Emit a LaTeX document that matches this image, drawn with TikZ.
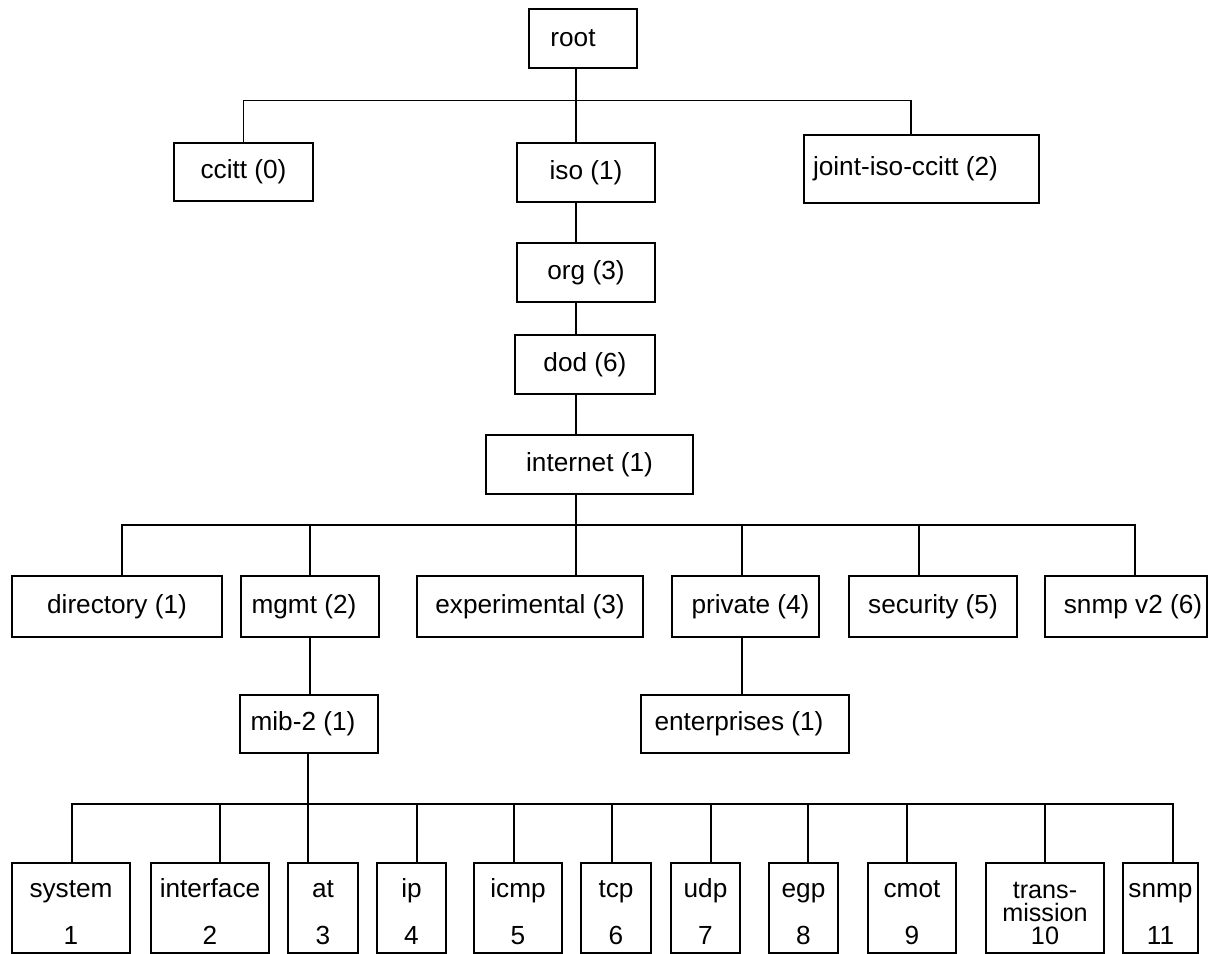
\documentclass[tikz,border=0pt]{standalone}
\usepackage{fontspec}
\setmainfont{Liberation Sans}
\begin{document}
% One unit = one half point; y grows downwards so positions read top to bottom.
\newcommand\treebox[6]{%
  \node[box, minimum width={(#4-#2)*0.5pt}, minimum height={(#5-#3)*0.5pt}]
    (#1) at ({(#2+#4)/2},{(#3+#5)/2}) {#6};}
\begin{tikzpicture}[x=0.5pt, y=-0.5pt, line width=0.8pt,
  box/.style={draw, rectangle, inner sep=0pt, outer sep=0pt,
    font=\fontsize{13.1}{15.7}\selectfont},
  lbl/.style={inner sep=0pt, font=\fontsize{13.1}{15.7}\selectfont},
  small lbl/.style={inner sep=0pt, font=\fontsize{12.6}{14}\selectfont},
  link/.style={line width=0.8pt}]
\useasboundingbox (0,0) rectangle (1212,954);

% ---- upper levels ----
\treebox{root}{529}{9}{637}{68}{root\hspace*{10pt}}
\treebox{ccitt}{174}{143}{313}{201}{ccitt (0)}
\treebox{iso}{517}{143}{655}{202}{iso (1)}
\treebox{joint}{804}{135}{1039}{203}{\makebox[117.5pt][l]{\hspace*{4.5pt}joint-iso-ccitt (2)}}
\treebox{org}{517}{243}{655}{302}{org (3)}
\treebox{dod}{515}{335}{655}{394}{dod (6)}
\treebox{internet}{486}{435}{693}{494}{internet (1)}

% ---- children of internet ----
\treebox{directory}{12}{576}{222}{637}{directory (1)}
\treebox{mgmt}{241}{576}{379}{637}{mgmt (2)\hspace*{6pt}}
\treebox{experimental}{417}{576}{643}{637}{experimental (3)}
\treebox{private}{672}{576}{819}{637}{\hspace*{5pt}private (4)}
\treebox{security}{849}{576}{1017}{637}{security (5)}
\treebox{snmpvtwo}{1045}{576}{1207}{637}{\hspace*{7pt}snmp v2 (6)}

\treebox{mibtwo}{240}{695}{378}{753}{mib-2 (1)\hspace*{6pt}}
\treebox{enterprises}{641}{695}{849}{753}{enterprises (1)\hspace*{6pt}}

% ---- bus lines ----
\coordinate (spine) at (576,0);
\coordinate (bar1) at (576,100.5);
\coordinate (bar2) at (576,525);
\coordinate (bar3) at (308,804);

\draw[link] (root.south -| spine) -- (iso.north -| spine);
\draw[link] (ccitt.north) |- (bar1 -| 911,0) -- (joint.north -| 911,0);
\draw[link] (iso.south -| spine) -- (org.north -| spine);
\draw[link] (org.south -| spine) -- (dod.north -| spine);
\draw[link] (dod.south -| spine) -- (internet.north -| spine);
\draw[link] (internet.south -| spine) -- (experimental.north -| spine);

\draw[link] (directory.north -| 122,0) |- (bar2 -| 1135,0) -- (snmpvtwo.north -| 1135,0);
\draw[link] (bar2 -| 310,0) -- (mgmt.north -| 310,0);
\draw[link] (bar2 -| 742,0) -- (private.north -| 742,0);
\draw[link] (bar2 -| 919,0) -- (security.north -| 919,0);

\draw[link] (mgmt.south -| 310,0) -- (mibtwo.north -| 310,0);
\draw[link] (private.south -| 742,0) -- (enterprises.north -| 742,0);
\draw[link] (mibtwo.south -| bar3) -- (bar3);

% ---- mib-2 groups ----
\foreach \id/\xa/\xb/\cx/\word/\num in {
  m1/12/130/72/system/1,
  m2/151/269/220/interface/2,
  m3/288/358/308/at/3,
  m4/377/446/417/ip/4,
  m5/474/562/514/icmp/5,
  m6/581/651/612/tcp/6,
  m7/671/740/711/udp/7,
  m8/769/838/808/egp/8,
  m9/868/956/907/cmot/9,
  m11/1123/1198/1173/snmp/11}
{
  \treebox{\id}{\xa}{863}{\xb}{953}{}
  \node[lbl, anchor=base] (\id-name) at ({(\xa+\xb)/2},897) {\word};
  \node[lbl, anchor=base] (\id-num) at ({(\xa+\xb)/2},944) {\num};
  \draw[link] (bar3 -| \cx,0) -- (\id.north -| \cx,0);
}
\treebox{m10}{986}{863}{1104}{953}{}
\node[small lbl, anchor=base] (m10-a) at (1045,898) {trans-};
\node[small lbl, anchor=base] (m10-b) at (1045,921) {mission};
\node[small lbl, anchor=base] (m10-num) at (1045,944) {10};
\draw[link] (bar3 -| 1045,0) -- (m10.north);

\draw[link] (m1.north -| 72,0) |- (bar3) -| (m11.north -| 1173,0);
\end{tikzpicture}
\end{document}
